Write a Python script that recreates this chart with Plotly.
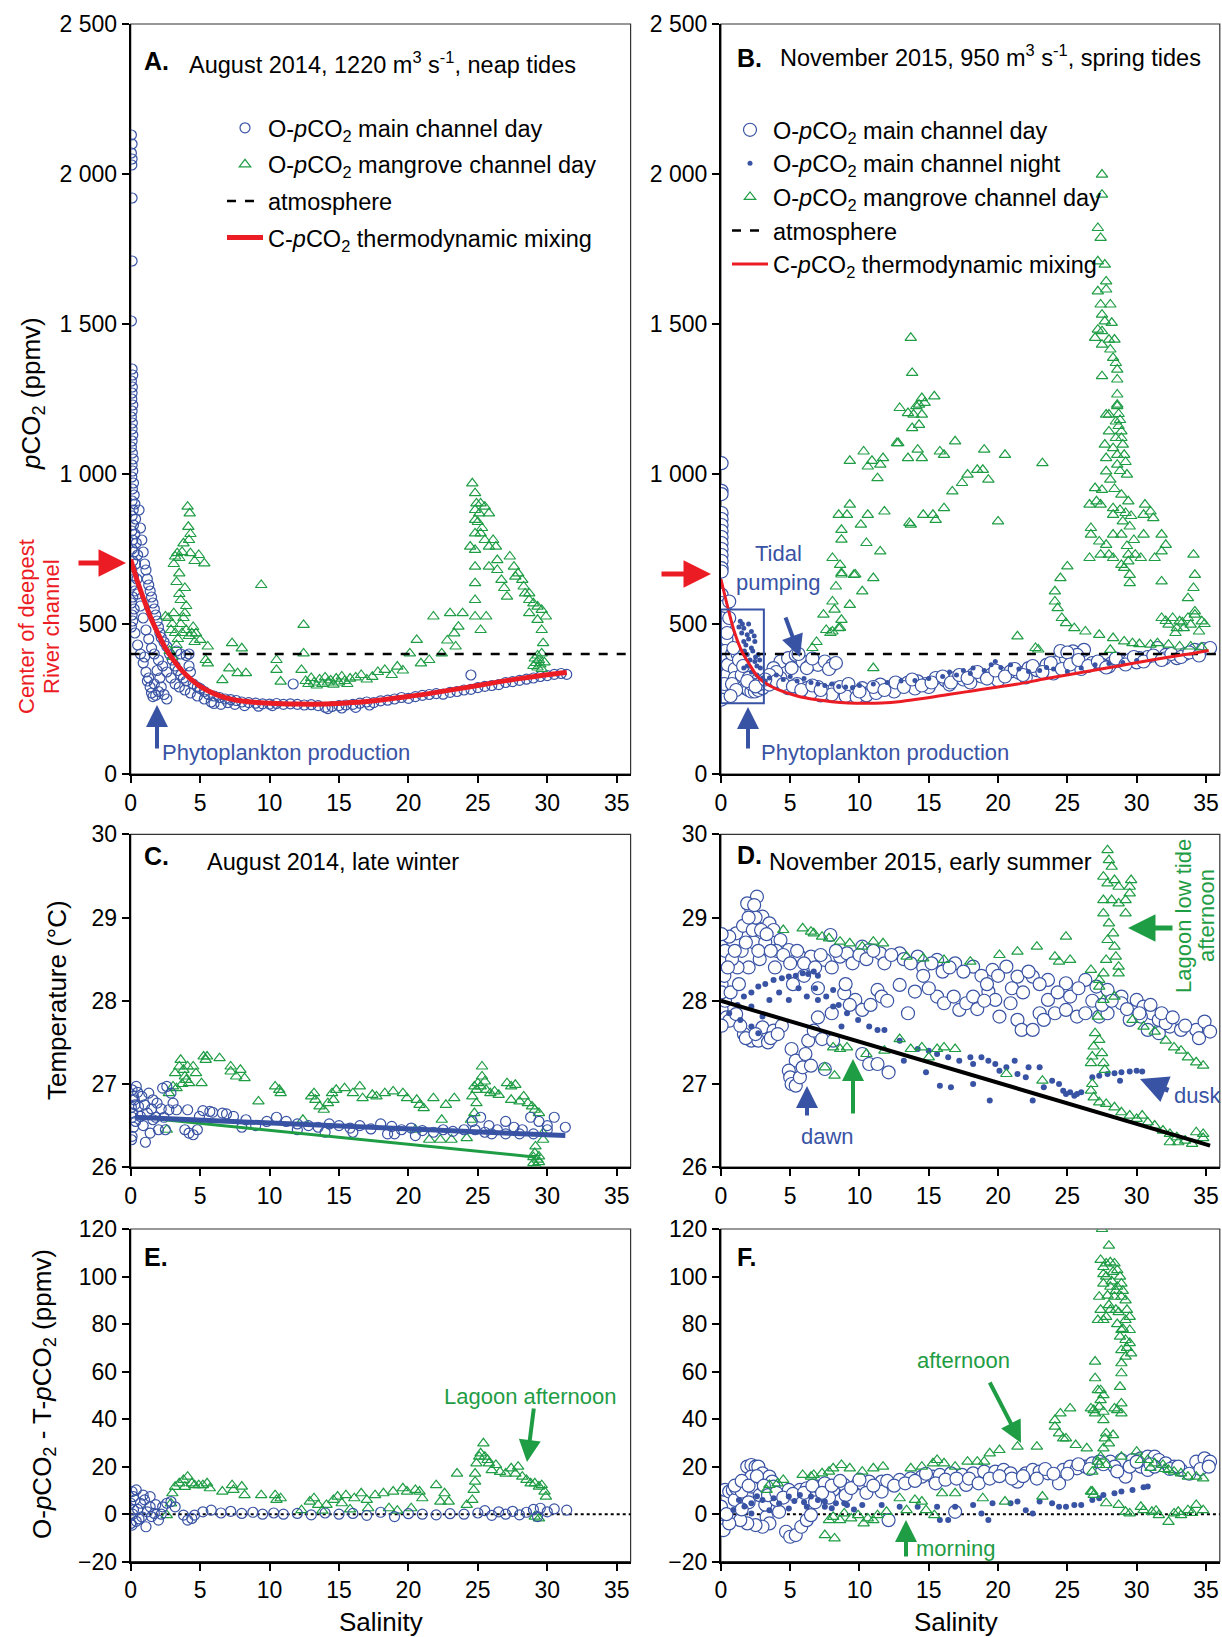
import plotly.graph_objects as go

W, H = 1222, 1637
BLUE = "#3953a4"
GREEN = "#1f9d45"
RED = "#ec1c24"
FONT = "Liberation Sans, Arial, sans-serif"
ATM = 400

# ---------------- Panel A: August 2014 pCO2 vs salinity ----------------
A_MAIN = [(0.05,2130),(0.1,2100),(0.05,2070),(0.1,2050),(0.08,2030),(0.1,1920),(0.1,1710),(0.05,1510),
 (0.1,1350),(0.15,1330),(0.05,1310),(0.12,1290),(0.1,1270),(0.08,1250),(0.15,1230),(0.1,1210),(0.05,1190),
 (0.12,1170),(0.1,1150),(0.15,1130),(0.1,1110),(0.05,1090),(0.12,1070),(0.18,1050),(0.1,1030),(0.15,1010),
 (0.08,990),(0.2,970),(0.12,950),(0.25,930),(0.1,910),(0.3,900),(0.18,880),(0.1,860),(0.35,850),(0.2,830),
 (0.08,810),(0.3,800),(0.15,780),(0.4,770),(0.1,750),(0.25,740),(0.5,730),(0.15,710),(0.35,700),(0.08,680),
 (0.2,660),(0.45,650),(0.1,630),(0.3,610),(0.15,590),(0.05,570),(0.25,550),(0.1,530),(0.15,510),(0.05,490),
 (0.6,880),(0.7,820),(0.8,780),(0.9,740),(1.0,700),(1.1,680),(1.2,650),(1.3,630),(1.4,610),(1.5,590),
 (1.6,570),(1.7,550),(1.8,530),(1.9,510),(2.0,490),(2.1,470),(2.2,455),(2.4,440),(2.6,425),(2.8,400),
 (3.0,380),(3.2,360),(3.4,345),(3.6,330),(3.8,320),(4.0,310),(4.2,360),(4.3,340),(4.5,300),(4.8,290),
 (5.0,285),(5.3,275),(5.6,265),(6.0,260),(6.4,255),(6.8,250),(7.2,248),(7.6,245),
 (0.5,600),(0.7,560),(0.9,520),(1.1,480),(1.3,450),(1.5,420),(1.7,400),(2.0,380),(2.3,360),(2.6,340),
 (2.9,320),(3.2,300),(3.5,290),(3.9,280),(4.3,270),(4.8,260),(5.3,250),(5.8,240),
 (0.3,470),(0.5,430),(0.7,400),(0.9,370),(1.1,340),(1.2,310),(1.4,290),(1.5,270),(1.6,258),(1.8,262),
 (2.0,275),(2.2,290),(2.4,265),(2.6,250),(1.3,320),(1.7,300),(2.1,320),(1.0,390),(1.9,345),
 (3.3,410),(3.6,400),(4.0,395),(4.2,400),
 (8.0,240),(8.5,238),(9.0,236),(9.5,234),(10,233),(10.5,235),(11,232),(11.5,234),(11.7,300),(12,232),
 (12.5,230),(13,231),(13.5,228),(14,222),(14.2,218),(14.5,225),(15,228),(15.5,230),(16,232),(16.5,236),
 (17,240),(17.5,238),(18,244),(18.5,246),(19,250),(19.5,255),(20,252),(20.5,258),(21,262),(21.5,265),
 (22,268),(22.5,266),(23,272),(23.5,275),(24,280),(24.5,330),(24.5,282),(25,288),(25.5,292),(26,295),
 (26.5,298),(27,305),(27.5,308),(28,312),(28.5,316),(29,320),(29.5,325),(30,328),(30.5,332),(31,335),
 (31.4,332),(6,235),(6.5,232),(7,238),(7.5,232),(8.2,228),(9.2,226),(10.2,228),(15.2,220),(16.2,222),(17.2,230)]

A_MANG = [(2.5,525),(2.9,480),(3.1,536),(3.2,725),(3.35,736),(3.5,669),(3.6,580),(3.8,769),(3.9,536),
 (4.1,891),(4.25,869),(4.15,824),(4.3,736),(4.4,469),(4.7,469),(5.0,447),(5.3,702),(5.55,425),(5.55,369),
 (5.4,380),(3.0,500),(3.2,470),(3.4,450),(3.6,500),(3.8,520),(4.0,480),(4.2,460),(4.5,490),(4.6,440),
 (3.3,430),(3.7,470),(4.0,560),(3.9,620),(3.5,600),(3.3,640),(3.1,700),(3.5,720),(3.7,740),(4.2,780),
 (4.3,800),(4.6,710),(4.9,730),(2.7,520),(2.8,410),(3.0,390),
 (6.6,313),(7.3,436),(7.1,352),(8.0,419),(8.3,336),(7.7,336),(9.4,630),(10.5,380),(10.5,347),(10.8,308),
 (12.45,497),(12.45,402),(12.3,347),
 (12.6,310),(12.8,300),(13.0,320),(13.2,305),(13.4,295),(13.6,315),(13.8,300),(14.0,322),(14.2,305),
 (14.4,312),(14.6,298),(14.8,318),(15.0,305),(15.2,325),(15.4,310),(15.6,300),(15.8,318),(16.2,322),
 (16.6,330),(17.0,315),
 (17.4,324),(17.8,340),(18.3,347),(18.8,330),(19.2,358),(19.6,345),(20.1,402),(20.6,447),(20.9,369),
 (21.5,380),(21.8,525),(22.4,402),(23.0,536),(23.3,469),(23.6,491),(23.9,536),(23.4,425),(22.8,445),
 (24.45,758),(25.2,480),(25.6,525),
 (24.6,969),(24.8,936),(24.8,880),(24.8,847),(24.9,902),(25.1,869),(25.2,902),(25.5,891),(25.8,869),
 (24.8,802),(24.8,747),(24.8,691),(24.8,636),(24.8,580),(24.8,525),(25.2,802),(25.5,780),(25.8,758),
 (26.1,780),(26.3,758),(26.4,713),(25.8,691),(26.4,680),(26.7,647),(27.3,725),(27.6,691),(27.7,658),
 (27.9,669),(28.2,647),(28.3,625),(28.4,602),(28.7,602),(28.7,580),(29.0,569),(29.3,558),(29.6,547),
 (29.9,525),(28.7,536),(29.3,514),(29.6,480),(29.7,436),(29.6,402),(27.1,591),(26.9,620),(25.0,840),
 (25.3,820),(29.1,385),(29.2,370),(29.3,355),(29.4,380),(29.5,365),(29.6,350),(29.3,395),(29.0,360),(29.8,372)]

A_MIX_S = [0, 0.5, 1.0, 1.5, 2.0, 2.5, 3.0, 3.5, 4.0, 5.0, 6.0, 7.0, 8.0, 10, 12, 14, 16, 18, 20, 22, 24, 26, 28, 30, 31.4]
A_MIX_P = [715, 640, 575, 515, 465, 420, 385, 355, 330, 292, 268, 252, 243, 236, 233, 233, 238, 247, 258, 272, 287, 303, 318, 331, 338]

# ---------------- Panel B: November 2015 pCO2 vs salinity ----------------
B_MAIN = [(0.05,1036),(0.05,944),(0.05,933),(0.05,870),(0.05,850),(0.05,830),(0.05,810),(0.05,790),
 (0.05,770),(0.05,750),(0.05,730),(0.05,710),(0.05,686),(0.05,675),(0.05,598),(0.05,570),(0.05,545),
 (0.05,520),(0.05,495),(0.05,470),(0.05,445),(0.05,420),(0.05,395),(0.05,370),(0.05,345),(0.05,320),
 (0.05,295),(0.05,270),(0.05,248),
 (0.3,560),(0.3,500),(0.4,450),(0.3,410),(0.35,380),(0.4,330),(0.25,300),(0.45,470),(0.6,575),(0.6,520),
 (0.5,364),(0.8,400),(1.0,350),
 (1.2,300),(1.4,298),(1.6,290),(1.8,285),(2.0,280),(2.2,275),(2.45,275),(2.7,280),(3.0,286),(1.0,320),
 (1.5,330),(2.0,320),(2.6,310),(1.2,400),(0.9,420),(1.3,380),
 (0.8,300),(1.6,360),(2.2,300),(2.8,300),(1.1,280),(0.7,260),(1.9,310),(2.5,292),
 (4.3,375),(4.85,386),(5.4,397),(5.9,375),(6.45,364),(7.0,364),(7.5,375),(8.05,364),(6.2,353),(5.1,353),
 (3.8,353),(4.3,320),(5.6,400),(6.6,385),(7.8,350),(8.3,370),(4.0,340),(3.5,330),
 (3.5,298),(4.0,310),(4.85,286),(5.5,300),(6.2,286),(7.0,290),(7.5,275),(8.2,285),(8.9,275),(9.5,268),
 (10.2,286),(10.8,275),(11.5,298),(12.2,288),(12.9,298),(13.5,305),(14.2,309),(14.8,300),(15.5,320),
 (16.2,312),(16.9,320),(17.5,315),(18.2,331),(18.8,325),(19.5,331),(20.2,335),(20.9,342),(21.5,338),
 (22.2,353),(22.8,346),(23.5,364),(24.2,372),(24.9,386),(25.4,409),(26.2,414),(25.7,397),(26.8,370),
 (27.5,364),(28.2,370),(28.9,375),(29.5,380),(30.2,386),(30.8,390),(31.5,420),(32.1,397),(32.9,386),
 (33.5,400),(34.2,414),(34.8,416),(35.3,420),
 (9.0,260),(9.8,256),(10.5,262),(11.2,270),(8.0,265),(7.2,262),(6.5,270),(12.5,275),(14.0,285),(15.0,290),
 (16.5,298),(18.0,305),(20.0,312),(22.0,322),(24.0,335),(26.0,350),(28.0,358),(30.0,372),(32.0,385),
 (24.5,410),(25.0,405),
 (3.2,315),(4.5,300),(5.2,292),(5.8,280),(6.6,295),(7.2,280),(8.6,290),(9.2,300),(10.0,275),(11.0,290),
 (11.8,280),(12.6,305),(13.2,290),(13.8,315),(14.5,295),(15.2,305),(16.0,325),(16.6,305),(17.2,330),
 (17.8,320),(18.5,340),(19.2,318),(19.8,345),(20.5,325),(21.2,350),(21.8,330),(22.5,360),(23.2,340),
 (23.8,370),(24.6,350),(25.2,365),(25.8,380),(26.5,360),(27.2,375),(27.8,355),(28.5,385),(29.2,365),
 (29.8,390),(30.5,375),(31.2,395),(31.8,380),(32.5,400),(33.2,390),(33.8,405),(34.5,395)]

B_NIGHT = [(1.4,509),(1.65,486),(1.9,464),(2.2,475),(2.45,442),(2.2,420),(2.7,398),(1.9,398),(1.65,442),
 (2.45,375),(2.85,353),(3.0,320),(1.65,353),(1.5,470),(1.8,430),(2.0,450),(2.3,410),(2.5,390),(2.6,360),
 (2.1,380),(1.7,410),(1.3,490),(1.55,500),(2.0,500),(2.4,460),(2.8,380),(1.9,360),(2.2,340),(2.6,330),
 (3.2,310),(3.5,320),(4.0,330),(4.5,315),(5.0,325),(5.5,310),(6.0,318),(6.5,305),(7.0,300),(7.5,295),
 (8.0,300),(8.5,292),(9.0,290),(9.5,288),(10.0,295),(11,300),(12,305),(13,310),(14,312),(15,318),(16,325),
 (16.5,340),(17,330),(17.5,345),(18,335),(18.2,353),(19,345),(19.5,364),(19.8,375),(20.2,355),(20.9,364),
 (21.5,350),(22.2,342),(23,345),(23.5,355),(24,350),(25,342),(26,353),(27,364),(28,368),(29,372),(30,378)]

B_MANG = [(6.6,420),(6.9,440),(7.4,531),(7.6,480),(7.9,470),(8.05,575),(8.2,548),(8.7,514),(8.05,475),
 (8.5,486),(8.05,720),(8.6,697),(8.7,670),(8.3,625),(8.7,814),(8.7,781),(8.5,864),(9.3,898),(9.1,864),
 (9.3,1044),(9.3,564),(9.6,664),(10.2,609),(10.1,831),(10.5,770),(10.3,1075),(10.6,864),(11.0,653),
 (10.9,1044),(10.6,1025),(11.3,986),(11.5,742),(11.7,1053),(11.5,1031),(11.0,353),(11.8,875),(12.7,1103),
 (13.5,1053),(13.7,831),(13.8,1153),(13.9,1198),(14.3,1231),(14.5,1198),(14.3,1164),(14.2,1081),
 (14.5,1053),(13.7,1454),(13.8,1337),(12.9,1220),(13.5,1203),(14.1,1226),(14.5,1253),(14.7,1237),
 (15.4,1259),(15.8,1075),(16.1,1064),(14.6,864),(15.3,864),(15.5,847),(16.1,886),(16.9,1109),
 (17.8,998),(17.4,970),(16.7,942),(18.5,1014),(19.0,1081),(18.9,1014),(19.3,981),(20.0,842),(20.5,1064),
 (23.2,1036),(21.4,459),(22.7,420),(8.7,665),(9.7,665),(8.6,487),(12.8,1103),(13.6,837),
 (24.1,609),(24.1,575),(24.3,553),(24.5,653),(25.0,692),(24.6,520),(24.9,503),(25.5,486),(26.3,475),
 (27.3,464),(28.3,453),(29.1,442),(29.7,436),(30.2,433),(31.0,431),(31.5,436),(32.3,431),(33.1,425),
 (33.9,425),(34.7,422),(28.1,414),(22.9,415),(31.8,520),(32.1,510),(32.6,520),(33.1,509),(33.7,520),
 (34.2,531),(34.7,509),(32.3,498),(32.9,486),(33.4,486),(33.9,498),(34.5,475),(34.2,542),(34.1,620),
 (33.7,586),(34.2,664),(34.1,731),(31.8,642),(31.8,798),(31.8,742),(32.1,764),(30.6,898),(30.5,864),
 (31.0,875),(31.2,853),(30.5,798),(31.3,720),(30.3,720),(32.8,470),(33.3,505),(34.9,500),
 (27.5,1998),(27.5,1931),(27.2,1820),(27.4,1787),(27.2,1709),(27.7,1698),(27.8,1642),(27.2,1609),
 (27.8,1615),(27.4,1565),(28.1,1565),(27.5,1531),(27.7,1509),(28.2,1504),(27.2,1481),(27.5,1476),
 (27.0,1454),(28.0,1448),(28.4,1448),(27.5,1431),(28.1,1415),(28.3,1387),(28.5,1370),(28.6,1348),
 (27.5,1326),(28.6,1315),(28.6,1265),(28.6,1226),(28.0,1198),(27.8,1198),(28.6,1231),(28.5,1175),
 (28.0,1142),(28.9,1142),(27.7,1098),(28.3,1086),(29.0,1098),(27.8,1053),(28.6,1064),(29.1,1064),
 (27.8,1009),(28.6,1031),(29.3,998),(28.1,981),(27.0,953),(27.5,947),(27.1,909),(26.6,898),(27.4,898),
 (28.3,886),(28.9,931),(29.4,909),(28.3,864),(26.7,820),(26.7,798),(27.8,764),(28.3,798),(29.0,842),
 (29.5,825),(27.3,775),(27.4,731),(28.0,731),(26.6,720),(28.3,720),(28.9,798),(29.4,731),(29.4,709),
 (29.1,687),(29.5,664),(29.5,636),(28.9,697),(29.9,731),(28.7,1200),(28.8,1180),(28.7,1160),(28.9,1120),
 (28.5,1120),(29.2,1040),(28.8,1010),(28.4,950),(28.8,880),(29.2,870),(29.6,860),(29.8,780),(29.3,760)]

B_MIX_S = [0, 0.5, 1.0, 1.5, 2.0, 2.7, 3.5, 4.4, 5.5, 6.8, 8, 9.2, 10.5, 11.6, 13, 14, 15.5, 16.4, 18, 20, 21.2, 23.5, 26, 28.9, 31.5, 33.5, 35.2]
B_MIX_P = [650, 555, 470, 410, 370, 322, 295, 276, 260, 248, 241, 237, 236, 237, 242, 248, 258, 265, 276, 290, 298, 318, 338, 362, 383, 398, 412]

# ---------------- Panel C: August 2014 temperature ----------------
C_MAIN = [(0.1,26.93),(0.4,26.97),(0.26,26.81),(0.56,26.73),(0.7,26.61),(0.1,26.37),(0.06,26.33),(1.06,26.3),
 (1.3,26.89),(1.6,26.81),(1.9,26.77),(1.6,26.57),(1.4,26.41),(2.0,26.45),(2.3,26.95),(2.6,26.97),(2.5,26.45),
 (2.9,26.89),(3.05,26.77),(2.75,26.69),(3.3,26.69),(4.1,26.69),(4.2,26.41),(4.5,26.39),(4.8,26.45),(3.9,26.45),
 (4.95,26.61),(0.2,26.85),(0.3,26.75),(0.15,26.65),(0.35,26.55),(0.2,26.48),(0.5,26.9),(0.8,26.85),
 (1.0,26.75),(1.2,26.65),(0.9,26.5),(1.5,26.7),(1.8,26.6),(2.2,26.7),(2.4,26.6),(0.05,26.72),(0.1,26.6),
 (5.2,26.68),(5.9,26.66),(6.9,26.64),
 (5.7,26.67),(6.6,26.65),(7.4,26.61),(8.3,26.57),(9.8,26.55),(10.5,26.6),(11.2,26.55),(12.0,26.52),
 (12.8,26.5),(13.5,26.48),(14.3,26.52),(15.0,26.5),(15.8,26.47),(16.5,26.5),(17.3,26.46),(18.0,26.52),
 (18.8,26.49),(19.5,26.45),(20.2,26.47),(21.0,26.44),(21.8,26.42),(22.5,26.45),(23.2,26.43),(24.0,26.45),
 (24.6,26.55),(25.2,26.6),(25.8,26.5),(26.4,26.45),(27.0,26.55),(27.6,26.48),(28.2,26.45),(28.8,26.6),
 (29.4,26.55),(30.0,26.5),(30.5,26.6),(31.3,26.48),
 (8.0,26.48),(9.0,26.5),(12.0,26.45),(14.0,26.42),(16.0,26.42),(18.5,26.4),(19.0,26.4),(20.5,26.38),
 (24.8,26.45),(25.5,26.42),(26.0,26.4),(27.0,26.4),(28.0,26.4),(29.0,26.4),(30.0,26.45)]

C_MANG = [(2.6,26.45),(2.75,26.89),(3.05,26.97),(3.2,27.13),(3.5,27.21),(3.6,27.29),(3.8,27.17),(3.9,27.09),
 (4.1,27.21),(4.2,27.01),(4.5,27.21),(4.7,27.13),(5.1,27.01),(5.25,27.33),(5.5,27.33),(5.4,27.29),(6.4,27.31),
 (7.2,27.21),(7.2,27.15),(7.9,27.17),(8.2,27.07),(7.6,27.09),(9.2,26.79),(10.4,26.97),(10.7,26.93),
 (10.8,26.89),(12.4,26.57),(13.0,26.85),(13.2,26.89),(13.3,26.81),(13.6,26.73),(13.9,26.69),(14.2,26.77),
 (14.5,26.89),(14.8,26.93),(14.6,26.81),(15.4,26.95),(16.0,26.89),(16.5,26.97),(16.7,26.83),(17.4,26.87),
 (17.7,26.85),(18.3,26.89),(18.9,26.91),(19.6,26.89),(19.9,26.83),(20.6,26.81),(20.8,26.75),(21.1,26.71),
 (21.5,26.33),(21.8,26.83),(22.3,26.33),(22.4,26.57),(22.7,26.75),(23.1,26.33),(23.3,26.83),(24.2,26.35),
 (24.5,26.57),(24.6,26.85),(24.75,26.97),(24.9,26.93),(25.0,27.01),(25.2,26.97),(25.3,27.21),(25.3,27.09),
 (25.5,27.03),(25.6,26.93),(25.9,26.89),(26.2,26.91),(26.5,26.87),(27.1,27.01),(27.4,26.97),(27.7,26.99),
 (27.4,26.81),(28.0,26.79),(28.3,26.85),(28.6,26.77),(28.9,26.73),(29.1,26.69),(29.4,26.65),(29.7,26.41),
 (29.7,26.33),(29.1,26.17),(29.3,26.09),(29.0,26.05),(29.4,26.13),(29.15,26.25),(24.75,26.65),(24.9,26.77),
 (20.5,26.45),(3.3,26.95),(4.0,27.05),(3.7,27.0),(29.2,26.02),(29.4,26.06),(29.0,26.12)]

C_MAIN_FIT_S = [0.3, 31.3]
C_MAIN_FIT_T = [26.6, 26.38]
C_MANG_FIT_S = [1.9, 29.2]
C_MANG_FIT_T = [26.58, 26.12]

# ---------------- Panel D: November 2015 temperature ----------------
D_MAIN = [(0.05,28.65),(0.05,28.5),(0.05,28.35),(0.05,28.2),(0.05,28.05),(0.05,27.9),(0.05,27.75),
 (0.3,28.6),(0.3,28.0),(0.4,27.8),(0.25,28.3),
 (2.6,29.25),(2.2,29.09),(1.9,29.17),(2.06,28.97),(1.66,28.81),(1.1,28.81),(0.6,28.77),(3.0,29.01),
 (3.5,28.93),(3.8,28.85),(4.3,28.73),(4.9,28.61),(5.7,28.53),(6.5,28.53),(7.5,28.49),(7.9,28.79),(8.6,28.53),
 (9.1,28.57),(10.2,28.65),(10.7,28.61),(11.5,28.57),(12.9,28.57),(14.2,28.53),(15.6,28.49),(16.9,28.45),
 (18.2,28.41),(19.6,28.37),(20.6,28.41),(21.4,28.29),(22.5,28.29),(23.6,28.25),(24.9,28.21),(26.3,28.25),
 (27.1,28.17),(27.9,28.13),(28.9,28.05),(30.0,28.01),(30.5,27.93),(31.1,27.85),(31.6,27.77),(32.4,27.69),
 (33.2,27.65),(34.3,27.65),(34.9,27.75),(35.3,27.63),
 (1.5,28.6),(2.4,28.7),(2.0,28.4),(2.8,28.5),(1.2,28.4),(3.2,28.7),(0.8,28.5),
 (8.9,28.09),(9.7,28.01),(10.2,27.89),(11.3,28.13),(11.6,28.05),(12.9,28.19),(14.0,28.11),(15.6,28.05),
 (16.1,27.97),(17.2,27.89),(17.7,27.97),(18.2,28.05),(19.3,28.11),(19.8,28.01),(20.1,27.81),(20.9,27.97),
 (21.4,27.77),(21.7,27.65),(22.5,27.65),(23.0,27.85),(23.3,27.77),(23.6,28.01),(24.1,27.85),(24.9,27.89),
 (25.7,27.81),(26.3,27.85),(27.3,27.81),(27.9,27.85),(28.9,27.97),(29.5,27.77),(30.3,27.81),(30.8,27.65),
 (31.6,27.61),(32.1,27.73),
 (1.66,27.6),(2.2,27.52),(2.7,27.52),(3.4,27.5),(3.0,27.68),(3.8,27.64),(0.6,27.76),(1.1,27.84),
 (5.1,27.42),(5.4,27.28),(4.9,27.16),(5.0,27.08),(5.1,27.0),(5.4,26.98),(5.7,27.08),(5.9,27.2),(6.1,27.36),
 (6.3,27.52),(6.5,27.22),(6.7,27.64),(7.3,27.54),(7.5,27.18),(8.1,27.52),(10.2,27.36),(10.7,27.24),
 (11.3,27.24),(12.1,27.14),(4.4,27.7),(7.0,27.8),(8.0,27.85),(9.3,27.95),
 (4.0,28.6),(4.5,28.55),(5.0,28.45),(5.5,28.6),(6.0,28.45),(6.8,28.4),(7.2,28.55),(8.0,28.4),(8.3,28.6),
 (9.5,28.45),(10.0,28.55),(10.5,28.5),(11.0,28.6),(11.8,28.45),(12.3,28.55),(13.2,28.5),(13.7,28.45),
 (14.6,28.4),(15.2,28.45),(16.0,28.35),(16.5,28.4),(17.5,28.35),(18.8,28.3),(19.2,28.2),(20.0,28.3),
 (21.0,28.15),(21.8,28.1),(22.2,28.35),(23.0,28.2),(24.3,28.1),(25.2,28.05),(25.8,28.15),(26.8,28.0),
 (27.5,27.95),(28.2,28.0),(29.3,27.9),(30.2,27.85),(31.0,27.95),(31.8,27.85),(32.6,27.8),(33.5,27.7),
 (34.5,27.55),(0.05,28.8),(0.05,28.1),(0.05,27.7),(0.5,28.4),(0.7,28.1),(1.0,28.6),(1.3,28.2),(1.6,28.9),
 (1.8,28.7),(2.3,28.85),(2.5,29.0),(2.7,28.6),(2.9,28.85),(3.3,28.8),(3.6,28.6),(3.9,28.4),(2.4,29.15),
 (2.0,29.0),(1.4,27.7),(1.8,27.55),(2.5,27.6),(3.6,27.55),(4.1,27.6),(5.2,28.2),(6.0,28.3),(7.0,28.15),
 (9.0,28.2),(10.8,27.95),(12.0,28.0),(13.5,27.85),(14.6,28.3),(15.0,28.15),(16.8,28.05),(18.5,27.9),(19.0,28.0)]

D_NIGHT = [(0.6,27.85),(1.66,28.05),(2.7,28.17),(3.8,28.25),(4.9,28.29),(5.9,28.33),(6.7,28.35),
 (1.2,27.95),(2.2,28.1),(3.2,28.2),(4.4,28.27),(5.4,28.3),(6.3,28.32),(7.0,28.3),
 (2.2,27.93),(3.5,28.01),(4.9,28.01),(6.2,28.05),(7.0,28.01),(8.1,27.93),(9.1,27.85),(9.9,27.77),
 (1.4,27.77),(2.2,27.69),(2.7,27.61),(3.0,27.81),(8.1,28.13),(8.7,27.69),(4.2,28.1),(5.6,28.15),
 (6.8,28.15),(7.6,28.05),(8.5,27.95),
 (10.7,27.69),(11.3,27.65),(11.8,27.65),(12.9,27.52),(13.2,27.28),(14.2,27.42),(15.0,27.4),(15.6,27.36),
 (14.8,27.14),(15.8,26.98),(16.6,26.96),(16.4,27.32),(17.2,27.28),(18.0,27.32),(18.2,27.24),(18.2,27.0),
 (18.8,27.32),(19.3,27.28),(19.4,26.8),(19.8,27.24),(20.1,27.16),(20.6,27.2),(21.2,27.28),(21.4,27.12),
 (22.0,27.08),(22.2,27.2),(22.5,26.8),(23.0,27.2),(23.3,26.96),(23.9,27.04),(24.4,27.0),(24.7,26.92),
 (24.9,26.88),(25.2,26.9),(25.5,26.86),(25.7,26.88),(26.0,26.9),
 (26.8,27.08),(27.3,27.1),(27.9,27.12),(28.4,27.13),(28.9,27.14),(29.5,27.15),(30.0,27.16),(30.4,27.15),
 (28.8,27.04)]

D_MANG = [(4.5,28.85),(5.9,28.87),(6.5,28.83),(6.7,28.81),(7.3,28.77),(7.8,28.75),(8.6,28.71),(9.3,28.69),
 (10.2,28.65),(11.0,28.71),(11.7,28.69),(13.4,28.53),(14.6,28.51),(16.1,28.49),(18.0,28.47),(20.1,28.55),
 (21.4,28.59),(22.8,28.65),(24.1,28.53),(24.4,28.47),(24.9,28.77),(25.2,28.49),(26.7,28.37),(27.3,28.25),
 (27.9,29.81),(28.0,29.69),(28.2,29.61),(27.6,29.49),(27.9,29.41),(28.4,29.45),(28.7,29.37),(27.6,29.21),
 (28.2,29.21),(28.7,29.17),(29.2,29.21),(29.5,29.37),(29.6,29.45),(29.5,29.29),(29.2,29.05),(27.6,29.05),
 (28.0,28.93),(28.3,28.81),(28.4,28.65),(28.5,28.53),(28.7,28.41),(28.7,28.33),(27.9,28.73),(27.8,28.49),
 (27.6,28.33),(27.3,28.17),(27.6,28.01),(27.2,27.81),(27.0,27.61),(26.9,27.45),(26.8,27.33),(26.7,27.25),
 (27.3,27.53),(27.5,27.37),(27.6,27.25),(27.7,27.17),(26.8,27.0),(26.7,26.92),(26.9,26.84),(27.3,26.78),
 (27.8,26.76),(28.4,26.72),(28.9,26.66),(29.5,26.62),(30.0,26.58),(30.4,26.62),(30.8,26.54),(31.3,26.5),
 (31.9,26.44),(32.4,26.4),(32.9,26.36),(33.5,26.32),(34.0,26.28),(34.3,26.42),(34.8,26.4),(32.4,26.3),
 (33.0,26.3),(34.8,26.35),
 (28.4,28.05),(29.7,27.77),(30.5,27.69),(31.3,27.63),(32.1,27.52),(32.7,27.44),(33.2,27.4),(33.7,27.32),
 (34.3,27.26),(34.8,27.22),
 (7.5,27.2),(8.2,27.1),(8.1,27.44),(8.6,27.42),(9.1,27.44),(10.5,27.36),(11.8,27.4),(12.9,27.54),
 (13.7,27.42),(14.5,27.44),(15.6,27.42),(16.1,27.44),(16.9,27.42),(15.0,27.32),(20.6,27.12),(23.2,27.04)]

D_FIT_S = [0, 35.3]
D_FIT_T = [28.0, 26.26]

# ---------------- Panel E: August 2014 O-pCO2 - T-pCO2 ----------------
E_MAIN = [(0.1,9.5),(0.4,10.2),(0.2,7.4),(0.0,4.6),(0.2,1.8),(0.0,-3.9),(0.1,-4.6),(0.7,4.6),(0.8,-1.1),
 (1.1,-5.3),(1.4,3.1),(1.7,0.3),(2.0,-2.5),(2.3,3.1),(2.6,4.6),(2.9,5.3),(3.2,3.1),(1.4,7.4),(1.0,6.0),
 (0.3,6),(0.5,2),(0.6,-2),(0.9,8),(1.2,1),(1.5,-1),(1.8,4),(2.2,0),(0.15,0),(0.4,-3),
 (3.8,-0.4),(4.1,-2.5),(4.4,-1.8),(4.6,-0.4),(5.2,1.0),(5.8,1.7),(6.5,0.5),(7.2,1.2),(8.0,0.3),(8.8,0.8),
 (9.5,0),(10.3,0.5),(11.0,0),(12.0,0.3),(13.0,-0.3),(14.0,0.5),(15.0,0),(16.0,0.3),(17.0,-0.5),(18.0,0.8),
 (19.0,-1.0),(20.0,0.2),(21.0,0),(22.0,-0.3),(23.0,0.2),(24.0,0),(25.0,0.5),(25.5,1.5),(26.0,-0.5),
 (26.5,1.0),(27.0,0),(27.5,1.2),(28.0,-0.3),(28.5,0.8),(29.0,2.0),(29.5,2.5),(30.0,1.0),(30.5,2.2),
 (31.4,1.7),(29.3,-1)]

E_MANG = [(2.6,-0.4),(2.9,4.5),(3.0,8.8),(3.2,11.5),(3.5,13),(3.8,14.4),(4.1,15.8),(3.9,11.5),(4.4,13),
 (4.6,12.2),(4.9,12.2),(5.2,12.2),(5.5,13),(5.7,10.9),(6.6,9.5),(7.3,12.2),(7.4,10.2),(8.0,11.6),(8.2,8.0),
 (9.4,8.0),(10.4,8.0),(10.8,6.7),(10.5,6),(12.3,1.7),(12.9,5.3),(13.2,6.7),(13.5,3.9),(14.1,3.9),(14.6,6),
 (14.9,7.4),(15.2,4.6),(15.5,8),(16.1,6.7),(16.6,8.8),(17.0,6),(17.1,2.5),(17.6,8),(18.2,8.8),(18.6,2.5),
 (18.9,9.5),(19.6,10.9),(19.9,9.5),(20.2,2.5),(20.5,10.2),(20.8,9.5),(21.0,6.7),(22.0,12.2),(22.3,5.3),
 (22.6,8.8),(22.9,5.3),(23.5,17.1),(24.2,3.9),(24.6,6),(24.7,10.2),(24.8,13.7),(24.8,17.1),(24.9,21.4),
 (25.1,24.2),(25.2,25.6),(25.5,24.2),(25.4,29.8),(25.7,22.8),(25.8,21.4),(26.0,18.5),(26.3,20.7),
 (26.6,17.8),(27.0,17.1),(27.4,19.3),(27.9,20),(27.7,17.1),(28.2,15.8),(28.5,14.4),(28.8,13),(29.1,13),
 (29.4,11.6),(29.6,12.2),(29.8,9.5),(29.9,7.4),(29.1,-1),(29.4,-1.8),(13.8,1.5),(15.8,2.0),(19.2,1.5)]

# ---------------- Panel F: November 2015 O-pCO2 - T-pCO2 ----------------
F_MAIN = [(0.0,3.2),(0.0,-2.4),(0.0,-5.3),(0.2,-6.7),(0.3,10.2),(0.6,9.5),(0.86,10.2),(1.0,6),(1.1,10.9),
 (1.5,9.5),(1.9,20),(2.2,20.7),(2.5,20),(2.7,20),(2.2,15.8),(2.2,11.6),(3.0,17.2),(3.5,15.8),(3.7,13.7),
 (3.8,11.6),(3.3,-1.1),(3.5,-3.9),(3.0,-5.3),(2.5,-4.6),(1.9,-3.9),(1.4,-2.5),(0.6,-3.9),(4.2,1),(4.7,-7.4),
 (5.0,-9.5),(5.4,-8.8),(5.8,-5.3),(6.2,-2.5),(6.5,-0.4),(4.9,10.2),(5.7,10.2),(6.2,10.9),(7.0,11.6),
 (7.5,13),(8.1,10.2),(8.9,12.3),(9.9,13),(10.2,13),(10.7,13.7),(11.6,13.7),(11.6,9.5),(12.1,-2.5),
 (12.9,14.4),(13.7,15.1),(14.5,15.8),(15.3,15.8),(15.8,16.5),(16.6,17.2),(17.4,16.5),(17.7,12.3),
 (18.2,17.2),(19.0,17.9),(19.8,17.9),(20.4,18.6),(20.9,17.2),(21.4,13.7),(22.0,17.2),(22.5,18.6),
 (23.0,17.9),(23.6,17.2),(24.4,13),(24.7,18.6),(25.2,20),(25.7,19.3),(26.3,20),(26.8,21.4),(27.3,22.1),
 (28.1,22.1),(28.9,22.8),(29.2,15.8),(29.7,22.8),(30.3,23.5),(30.8,24.2),(31.3,24.2),(31.6,22.8),
 (32.1,21.4),(32.7,20),(33.2,18.6),(34.3,22.1),(34.9,23.5),(35.3,22.1),(30.3,20),(30.8,18.6),(31.3,20),
 (28.4,20),(16.9,1.0),(2.0,5),(2.8,8),(1.5,2),(3.2,4),(0.4,0),(4.0,6),(6.8,5),(7.8,7),(9.0,8),(10.5,9),
 (1.0,12),(1.5,14),(2.0,12),(2.6,16),(3.1,12),(3.4,8),(4.0,9),(4.5,7),(5.2,8.5),(6.0,9),(6.6,12),(7.3,9),
 (8.0,12),(8.6,14),(9.4,11),(10.0,14.5),(11.0,12),(12.0,14),(12.5,12),(13.3,13),(14.0,14),(14.8,17),
 (15.5,13),(16.2,14.5),(17.0,15),(17.9,15),(18.6,13),(19.4,15),(20.1,16),(21.0,15),(21.8,16),(22.8,15),
 (23.4,19),(24.0,17),(25.0,17),(25.8,21),(26.6,19),(27.6,21),(28.6,18),(29.5,20),(30.0,22),(31.0,21),
 (32.4,19),(33.0,20),(33.8,17),(34.6,19),(35.2,20)]

F_NIGHT = [(0.9,1.8),(1.7,3.2),(2.2,4.6),(3.0,6),(3.8,6.7),(4.9,7.4),(5.7,8.1),(6.5,7.4),(7.0,6),(7.5,5.3),
 (8.3,4.6),(9.1,3.9),(2.2,0.3),(3.5,1.7),(4.9,2.4),(6.2,3.1),(7.5,3.1),(8.9,4.6),(10.2,3.9),(11.6,3.9),
 (12.9,3.1),(14.2,3.1),(15.6,3.1),(15.8,-2.5),(16.4,-2.5),(16.9,3.1),(18.2,3.9),(18.8,0.3),(19.3,-2.5),
 (19.6,4.6),(20.9,4.6),(21.4,5.3),(22.0,1.7),(22.5,0.3),(23.0,5.3),(23.9,4.6),(24.4,3.1),(24.9,3.1),
 (25.5,3.9),(26.0,3.9),(26.8,6),(27.6,8.1),(28.4,8.8),(28.9,9.5),(29.7,10.2),(30.5,11.3),(30.8,11.6),
 (27.3,6.7),(4.2,4.5),(5.3,5.5),(6.0,5.0),(8.0,2.5),(9.6,2.0),(1.3,6.0),(2.6,7.5)]

F_MANG = [(3.3,10.2),(3.5,12.3),(4.1,13),(4.5,14.4),(5.9,16.5),(6.5,15.8),(6.7,16.5),(7.3,17.2),(7.8,17.9),
 (8.1,19.3),(8.7,20.7),(9.3,19.3),(10.2,17.9),(11.0,19.3),(11.7,20),(13.7,19.3),(14.5,20),(15.3,21.4),
 (15.6,22.8),(16.1,21.4),(16.9,20),(17.8,22.1),(18.5,22.1),(19.0,22.1),(19.4,25.6),(20.1,27),(21.4,28.4),
 (22.8,28.4),(24.1,39.6),(24.1,36.8),(24.4,34),(24.7,31.9),(24.9,31.9),(24.5,42.4),(25.2,44.5),(25.6,29.1),
 (26.4,27.7),(26.7,44.5),(26.9,43.8),
 (27.5,120),(28.0,113),(27.4,107),(27.6,104),(27.8,105.5),(28.1,106),(28.4,105.5),(28.6,102.7),(28.8,100),
 (28.9,97),(29.0,94),(29.2,90),(29.3,86),(29.5,83),(29.5,77.5),(29.5,72),(29.6,67.7),(29.2,66.3),(28.9,69),
 (28.8,74.7),(28.6,80),(28.5,86),(28.4,91.5),(28.1,95.7),(27.8,100),(27.6,101),(27.3,91.5),(27.4,86),
 (27.2,81.7),(27.6,81.7),(27.8,83),(28.1,86),(27.6,97),(28.6,95.7),(28.9,91.5),(29.2,81.7),(28.9,77.5),
 (29.2,73.3),(28.9,63.5),(28.9,59.3),(28.8,53.6),(28.9,46.6),(28.9,42.4),(28.6,43.8),(28.4,44.5),
 (27.0,64.2),(27.0,57.2),(27.2,52.2),(27.4,52.2),(27.6,50.1),(27.4,48),(27.3,45.2),(27.6,43.1),(27.0,42.4),
 (27.6,39.6),(27.8,34),(27.7,31.9),(28.3,33.3),(28.0,29.8),(27.6,27.7),(27.2,22.1),(27.4,24.2),(27.8,20.7),
 (26.8,17.9),(26.7,9.5),(26.9,8.1),(27.3,20.7),(28.2,98),(28.5,94),(28.0,88),(28.7,85),(29.0,78),(29.3,70),
 (28.3,102),(27.9,92),
 (28.9,24.2),(30.0,26.3),(30.3,22.8),(30.8,22.8),(31.3,21.4),(31.9,20.7),(32.3,18.6),(32.7,17.9),
 (33.2,17.2),(33.7,15.8),(34.3,15.8),(34.8,15.1),(31.0,19.5),(32.0,19.0),
 (7.5,-8.8),(8.2,-10.2),(7.8,-2.5),(8.1,-1.1),(8.6,-2.5),(8.9,0.3),(9.4,-1.8),(9.9,-0.4),(10.3,-3.9),
 (10.6,-1.8),(11.0,-2.5),(11.3,-0.4),(11.95,1),(12.9,6.7),(13.4,1.7),(14.0,6),(14.5,5.3),(14.8,1.7),
 (15.4,-0.4),(15.96,8.8),(16.9,8.8),(18.9,6.7),(20.5,5.3),(23.2,7.4),(26.8,9.5),(27.8,4.6),(28.7,3.9),
 (29.2,1.0),(29.5,0.3),(30.3,3.1),(30.5,1.7),(31.1,1),(31.6,-0.4),(32.3,-3.2),(32.7,0.3),(33.2,-0.4),
 (33.7,1.7),(34.3,3.9),(34.8,1.7),(31.4,1.5),(33.0,1.0),(34.0,0.5)]

Y1_TICKS = [0, 500, 1000, 1500, 2000, 2500]
Y1_LABELS = ["0", "500", "1 000", "1 500", "2 000", "2 500"]


def unzip(pairs):
    return [p[0] for p in pairs], [p[1] for p in pairs]


def px_x(v):
    return v / W


def px_y(v):
    return 1 - v / H


fig = go.Figure()

circ_open = dict(symbol="circle-open", color=BLUE, size=10, line=dict(width=1.2, color=BLUE))
circ_white = dict(symbol="circle", color="white", size=13, line=dict(width=1.2, color=BLUE))
tri = dict(symbol="triangle-up-open", color=GREEN, size=10, line=dict(width=1.2, color=GREEN))
dot = dict(symbol="circle", color=BLUE, size=5, line=dict(width=0))

LBL_DAY = "O-<i>p</i>CO<sub>2</sub> main channel day"
LBL_NIGHT = "O-<i>p</i>CO<sub>2</sub> main channel night"
LBL_MANG = "O-<i>p</i>CO<sub>2</sub> mangrove channel day"
LBL_ATM = "atmosphere"
LBL_MIX = "C-<i>p</i>CO<sub>2</sub> thermodynamic mixing"

# Panel A
x, y = unzip(A_MAIN)
fig.add_trace(go.Scatter(x=x, y=y, mode="markers", marker=circ_open, name=LBL_DAY, xaxis="x", yaxis="y",
                         legend="legend", legendgroup="a1", legendrank=1))
x, y = unzip(A_MANG)
fig.add_trace(go.Scatter(x=x, y=y, mode="markers", marker=tri, name=LBL_MANG, xaxis="x", yaxis="y",
                         legend="legend", legendgroup="a2", legendrank=2))
fig.add_trace(go.Scatter(x=[0, 36], y=[ATM, ATM], mode="lines", line=dict(color="black", width=2.5, dash="dash"),
                         name=LBL_ATM, xaxis="x", yaxis="y", legend="legend", legendgroup="a3", legendrank=3))
fig.add_trace(go.Scatter(x=A_MIX_S, y=A_MIX_P, mode="lines", line=dict(color=RED, width=5, shape="spline"),
                         name=LBL_MIX, xaxis="x", yaxis="y", legend="legend", legendgroup="a4", legendrank=4))

# Panel B
x, y = unzip(B_MAIN)
fig.add_trace(go.Scatter(x=x, y=y, mode="markers", marker=circ_white, name=LBL_DAY, xaxis="x2", yaxis="y2",
                         legend="legend2", legendgroup="b1", legendrank=1))
x, y = unzip(B_NIGHT)
fig.add_trace(go.Scatter(x=x, y=y, mode="markers", marker=dot, name=LBL_NIGHT, xaxis="x2", yaxis="y2",
                         legend="legend2", legendgroup="b2", legendrank=2))
x, y = unzip(B_MANG)
fig.add_trace(go.Scatter(x=x, y=y, mode="markers", marker=tri, name=LBL_MANG, xaxis="x2", yaxis="y2",
                         legend="legend2", legendgroup="b3", legendrank=3))
fig.add_trace(go.Scatter(x=[0, 36], y=[ATM, ATM], mode="lines", line=dict(color="black", width=2.5, dash="dash"),
                         name=LBL_ATM, xaxis="x2", yaxis="y2", legend="legend2", legendgroup="b4", legendrank=4))
fig.add_trace(go.Scatter(x=B_MIX_S, y=B_MIX_P, mode="lines", line=dict(color=RED, width=3, shape="spline"),
                         name=LBL_MIX, xaxis="x2", yaxis="y2", legend="legend2", legendgroup="b5", legendrank=5))

# Panel C
x, y = unzip(C_MANG)
fig.add_trace(go.Scatter(x=x, y=y, mode="markers", marker=tri, showlegend=False, xaxis="x3", yaxis="y3"))
x, y = unzip(C_MAIN)
fig.add_trace(go.Scatter(x=x, y=y, mode="markers", marker=circ_open, showlegend=False, xaxis="x3", yaxis="y3"))
fig.add_trace(go.Scatter(x=C_MANG_FIT_S, y=C_MANG_FIT_T, mode="lines", line=dict(color=GREEN, width=3),
                         showlegend=False, xaxis="x3", yaxis="y3"))
fig.add_trace(go.Scatter(x=C_MAIN_FIT_S, y=C_MAIN_FIT_T, mode="lines", line=dict(color=BLUE, width=5),
                         showlegend=False, xaxis="x3", yaxis="y3"))

# Panel D
x, y = unzip(D_MAIN)
fig.add_trace(go.Scatter(x=x, y=y, mode="markers", marker=circ_white, showlegend=False, xaxis="x4", yaxis="y4"))
x, y = unzip(D_NIGHT)
fig.add_trace(go.Scatter(x=x, y=y, mode="markers", marker=dict(dot, size=6), showlegend=False, xaxis="x4", yaxis="y4"))
x, y = unzip(D_MANG)
fig.add_trace(go.Scatter(x=x, y=y, mode="markers", marker=tri, showlegend=False, xaxis="x4", yaxis="y4"))
fig.add_trace(go.Scatter(x=D_FIT_S, y=D_FIT_T, mode="lines", line=dict(color="black", width=4),
                         showlegend=False, xaxis="x4", yaxis="y4"))

# Panel E
x, y = unzip(E_MANG)
fig.add_trace(go.Scatter(x=x, y=y, mode="markers", marker=tri, showlegend=False, xaxis="x5", yaxis="y5"))
x, y = unzip(E_MAIN)
fig.add_trace(go.Scatter(x=x, y=y, mode="markers", marker=circ_open, showlegend=False, xaxis="x5", yaxis="y5"))

# Panel F
x, y = unzip(F_MAIN)
fig.add_trace(go.Scatter(x=x, y=y, mode="markers", marker=circ_white, showlegend=False, xaxis="x6", yaxis="y6"))
x, y = unzip(F_NIGHT)
fig.add_trace(go.Scatter(x=x, y=y, mode="markers", marker=dict(dot, size=6), showlegend=False, xaxis="x6", yaxis="y6"))
x, y = unzip(F_MANG)
fig.add_trace(go.Scatter(x=x, y=y, mode="markers", marker=tri, showlegend=False, xaxis="x6", yaxis="y6"))

# ---------------- axes ----------------
COL1 = [px_x(130.7), px_x(630.6)]
COL2 = [px_x(720.9), px_x(1219.8)]
ROW1 = [px_y(774), px_y(24)]
ROW2 = [px_y(1167.2), px_y(834.3)]
ROW3 = [px_y(1561.7), px_y(1229)]

tickfont = dict(family=FONT, size=23, color="black")
base_x = dict(range=[0, 36], tickvals=[0, 5, 10, 15, 20, 25, 30, 35], showline=True, linecolor="black",
              linewidth=2, ticks="outside", ticklen=7, tickwidth=2, tickcolor="black", showgrid=False,
              zeroline=False, tickfont=tickfont, automargin=False)
base_y = dict(showline=True, linecolor="black", linewidth=2, ticks="outside", ticklen=7, tickwidth=2,
              tickcolor="black", showgrid=False, zeroline=False, tickfont=tickfont, automargin=False)

layout_axes = {}
panels = [("", COL1, ROW1), ("2", COL2, ROW1), ("3", COL1, ROW2), ("4", COL2, ROW2), ("5", COL1, ROW3), ("6", COL2, ROW3)]
for i, (n, cx, ry) in enumerate(panels):
    xa = dict(base_x, domain=cx, anchor="y" + n)
    if i < 2:
        ya = dict(base_y, domain=ry, anchor="x" + n, range=[0, 2500], tickvals=Y1_TICKS, ticktext=Y1_LABELS)
    elif i < 4:
        ya = dict(base_y, domain=ry, anchor="x" + n, range=[26, 30], tickvals=[26, 27, 28, 29, 30])
    else:
        ya = dict(base_y, domain=ry, anchor="x" + n, range=[-20, 120], tickvals=[-20, 0, 20, 40, 60, 80, 100, 120])
    layout_axes["xaxis" + n] = xa
    layout_axes["yaxis" + n] = ya

shapes = []
for n, cx, ry in panels:
    xr = "x" + n if n else "x"
    yr = "y" + n if n else "y"
    shapes.append(dict(type="rect", xref=xr + " domain", yref=yr + " domain", x0=0, x1=1, y0=0, y1=1,
                       line=dict(color="#333333", width=1.2), layer="below"))
for n in ["5", "6"]:
    shapes.append(dict(type="line", xref="x" + n + " domain", yref="y" + n, x0=0, x1=1, y0=0, y1=0,
                       line=dict(color="black", width=2, dash="dot"), layer="below"))
shapes.append(dict(type="rect", xref="x2", yref="y2", x0=0, x1=3.1, y0=236, y1=548,
                   line=dict(color=BLUE, width=2)))

ann = []


def text(xp, yp, s, size=22, color="black", xanchor="left", angle=0, bold=False):
    if bold:
        s = "<b>" + s + "</b>"
    ann.append(dict(x=px_x(xp), y=px_y(yp), xref="paper", yref="paper", text=s, showarrow=False,
                    xanchor=xanchor, yanchor="middle", textangle=angle,
                    font=dict(family=FONT, size=size, color=color)))


def arrow(tipx, tipy, tailx, taily, color, width=4):
    ann.append(dict(x=px_x(tipx), y=px_y(tipy), xref="paper", yref="paper", text="", showarrow=True,
                    ax=tailx - tipx, ay=taily - tipy, axref="pixel", ayref="pixel",
                    arrowhead=2, arrowsize=1.1, arrowwidth=width, arrowcolor=color))


text(142, 61, "A.", size=25, bold=True)
text(187, 63, "August 2014, 1220 m<sup>3</sup> s<sup>-1</sup>, neap tides", size=23.5)
text(735, 58, "B.", size=25, bold=True)
text(778, 56, "November 2015, 950 m<sup>3</sup> s<sup>-1</sup>, spring tides", size=23.5)
text(142, 856, "C.", size=25, bold=True)
text(205, 862, "August 2014, late winter", size=23.5)
text(735, 855, "D.", size=25, bold=True)
text(767, 862, "November 2015, early summer", size=23.5)
text(142, 1257, "E.", size=25, bold=True)
text(735, 1257, "F.", size=25, bold=True)

text(32, 394, "<i>p</i>CO<sub>2</sub> (ppmv)", size=26, xanchor="center", angle=-90)
text(57, 1000, "Temperature (°C)", size=26, xanchor="center", angle=-90)
text(43, 1394, "O-<i>p</i>CO<sub>2</sub> - T-<i>p</i>CO<sub>2</sub> (ppmv)", size=26, xanchor="center", angle=-90)
text(381, 1622, "Salinity", size=26, xanchor="center")
text(956, 1622, "Salinity", size=26, xanchor="center")

text(26, 627, "Center of deepest", size=22, color=RED, xanchor="center", angle=-90)
text(51, 627, "River channel", size=22, color=RED, xanchor="center", angle=-90)
arrow(126, 563, 77, 563, RED, 5)
arrow(157, 705, 157, 750, BLUE, 4)
text(160, 752, "Phytoplankton production", size=22, color=BLUE)

arrow(711, 574, 660, 574, RED, 5)
text(778, 553, "Tidal", size=22, color=BLUE, xanchor="center")
text(778, 582, "pumping", size=22, color=BLUE, xanchor="center")
arrow(800, 657, 785, 616, BLUE, 4)
arrow(748, 707, 748, 750, BLUE, 4)
text(759, 752, "Phytoplankton production", size=22, color=BLUE)

text(1183, 916, "Lagoon low tide", size=22, color=GREEN, xanchor="center", angle=-90)
text(1206, 916, "afternoon", size=22, color=GREEN, xanchor="center", angle=-90)
arrow(1128, 928, 1174, 928, GREEN, 5)
arrow(807, 1086, 807, 1117, BLUE, 4)
text(827, 1136, "dawn", size=22, color=BLUE, xanchor="center")
arrow(853, 1059, 853, 1115, GREEN, 4)
arrow(1140, 1079, 1170, 1091, BLUE, 5)
text(1172, 1095, "dusk", size=22, color=BLUE)

text(530, 1396, "Lagoon afternoon", size=22, color=GREEN, xanchor="center")
arrow(527, 1462, 534, 1407, GREEN, 4)

text(963, 1360, "afternoon", size=22, color=GREEN, xanchor="center")
arrow(1021, 1443, 989, 1381, GREEN, 4)
arrow(906, 1520, 906, 1558, GREEN, 4)
text(914, 1548, "morning", size=22, color=GREEN)

legend_common = dict(xanchor="left", yanchor="top", bgcolor="rgba(0,0,0,0)", borderwidth=0,
                     font=dict(family=FONT, size=23.5, color="black"), itemwidth=36)

fig.update_layout(
    template="none",
    width=W, height=H, margin=dict(l=0, r=0, t=0, b=0, pad=0, autoexpand=False),
    paper_bgcolor="white", plot_bgcolor="white",
    font=dict(family=FONT, size=22, color="black"),
    legend=dict(legend_common, x=px_x(222), y=px_y(106), tracegroupgap=3),
    legend2=dict(legend_common, x=px_x(727), y=px_y(108), tracegroupgap=0),
    shapes=shapes, annotations=ann,
    **layout_axes,
)

fig.write_html("out.html")
